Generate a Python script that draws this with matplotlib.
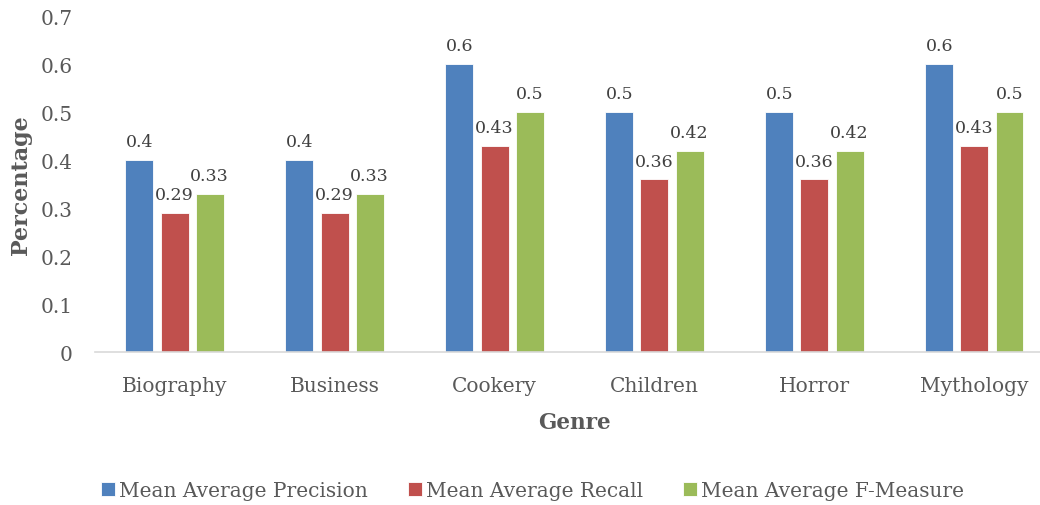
import numpy as np
import matplotlib.pyplot as plt

genres = ['Biography', 'Business', 'Cookery', 'Children', 'Horror', 'Mythology']
precision = [0.4, 0.4, 0.6, 0.5, 0.5, 0.6]
recall = [0.29, 0.29, 0.43, 0.36, 0.36, 0.43]
fmeasure = [0.33, 0.33, 0.5, 0.42, 0.42, 0.5]
series = ['Mean Average Precision', 'Mean Average Recall', 'Mean Average F-Measure']
colors = ['#4F81BD', '#C0504D', '#9BBB59']

plt.rcParams['font.family'] = ['DejaVu Serif']
txt = '#595959'

fig = plt.figure(figsize=(10.4, 5.06), dpi=100)
ax = fig.add_axes([0.0909, 0.302, 0.923, 0.664])

x = np.arange(len(genres))
w = 0.175
step = 0.219
for j, (vals, name, c) in enumerate(zip([precision, recall, fmeasure], series, colors)):
    bars = ax.bar(x + (j - 1) * step, vals, w, color=c, label=name,
                  edgecolor='white', linewidth=0.6)
    for b, v in zip(bars, vals):
        ax.annotate(f'{v:g}', (b.get_x() + b.get_width() / 2, v),
                    xytext=(0, 7), textcoords='offset points',
                    ha='center', va='bottom', fontsize=12.5, color='#404040')

ax.set_xlim(-0.5, len(genres) - 0.5)
ax.set_ylim(0, 0.7)
ax.set_yticks(np.arange(0, 0.71, 0.1))
ax.set_yticklabels(['0'] + [f'{t:.1f}' for t in np.arange(0.1, 0.71, 0.1)])
ax.set_xticks(x)
ax.set_xticklabels(genres)
ax.tick_params(axis='both', length=0, labelsize=14.5, colors=txt)
ax.tick_params(axis='x', pad=17)
ax.tick_params(axis='y', pad=16)
for s in ['top', 'right', 'left']:
    ax.spines[s].set_visible(False)
ax.spines['bottom'].set_color('#D9D9D9')
ax.spines['bottom'].set_linewidth(1.2)

ax.set_xlabel('Genre', fontsize=15.5, fontweight='bold', color=txt, labelpad=12)
ax.set_ylabel('Percentage', fontsize=16, fontweight='bold', color=txt, labelpad=6)

fig.legend(loc='center', bbox_to_anchor=(0.512, 0.028), ncol=3, frameon=False,
           fontsize=14.5, labelcolor=txt, handlelength=0.7, handleheight=0.7,
           handletextpad=0.2, columnspacing=2.0)

fig.savefig('out.png', dpi=100)
